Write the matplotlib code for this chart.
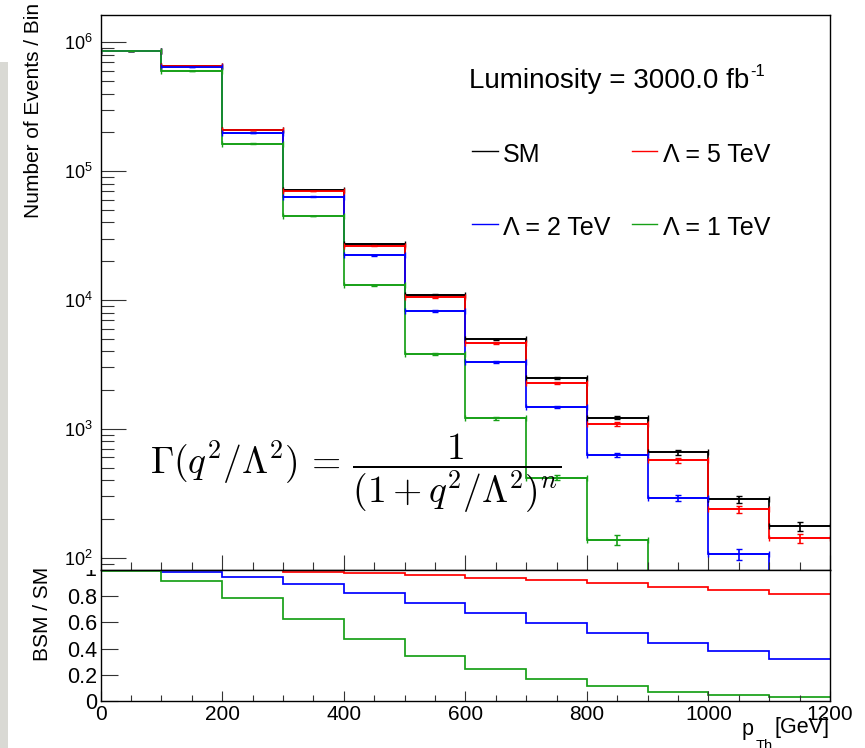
import numpy as np
import matplotlib
matplotlib.use("Agg")
import matplotlib.pyplot as plt
from matplotlib.lines import Line2D
from matplotlib.patches import Rectangle
from matplotlib.transforms import Bbox, TransformedBbox
from matplotlib.ticker import MultipleLocator, LogLocator, NullFormatter

plt.rcParams['font.family'] = ['Liberation Sans', 'DejaVu Sans']

# bin edges in pT [GeV]
edges = [0, 100, 200, 300, 400, 500, 600, 700, 800, 900, 1000, 1100, 1200]
centers = [50, 150, 250, 350, 450, 550, 650, 750, 850, 950, 1050, 1150]

# events / bin
sm = [8.61e5, 6.55e5, 2.09e5, 7.14e4, 2.71e4, 1.10e4, 4950, 2490, 1220, 658, 284, 175]
lam5 = [8.60e5, 6.54e5, 2.08e5, 7.01e4, 2.64e4, 1.05e4, 4640, 2280, 1090, 570, 238, 142]
lam2 = [8.55e5, 6.43e5, 1.99e5, 6.34e4, 2.23e4, 8220, 3300, 1480, 625, 291, 106, 56]
lam1 = [8.52e5, 6.02e5, 1.64e5, 4.49e4, 1.30e4, 3810, 1210, 418, 137, 48, 14, 6]

sm_err = [930, 810, 457, 267, 165, 105, 70, 50, 35, 26, 17, 13]
lam5_err = [928, 809, 456, 265, 162, 102, 68, 48, 33, 24, 15, 12]
lam2_err = [925, 802, 446, 252, 149, 91, 57, 38, 25, 17, 10, 7.5]
lam1_err = [923, 776, 405, 212, 114, 62, 35, 20, 12, 7, 4, 2.4]

# ratio BSM / SM
r5 = [0.998, 0.997, 0.993, 0.983, 0.970, 0.958, 0.938, 0.917, 0.894, 0.871, 0.844, 0.816]
r2 = [0.993, 0.981, 0.943, 0.890, 0.821, 0.748, 0.671, 0.593, 0.517, 0.443, 0.380, 0.319]
r1 = [0.990, 0.915, 0.783, 0.628, 0.476, 0.347, 0.246, 0.170, 0.114, 0.073, 0.050, 0.035]

names = ['SM', 'Λ = 5 TeV', 'Λ = 2 TeV', 'Λ = 1 TeV']
colors = ['black', '#ff0000', '#0000ff', '#17a017']

xticks = [0, 200, 400, 600, 800, 1000, 1200]
xticklabels = ['0', '200', '400', '600', '800', '1000', '1200']
rticks = [0, 0.2, 0.4, 0.6, 0.8]
rticklabels = ['0', '0.2', '0.4', '0.6', '0.8']

W, H = 865, 748
def fx(px):
    return px / W
def fy(py):
    return 1 - py / H

fig = plt.figure(figsize=(W / 100, H / 100), dpi=100)

# thin grey strip at the left edge
fig.patches.append(Rectangle((0, 0), fx(8), fy(62), transform=fig.transFigure,
                             facecolor='#d9d9d4', edgecolor='none', zorder=0))

L, R = 100.7, 830
T, M, B = 14.7, 569.5, 701.3
ax = fig.add_axes([fx(L), fy(M), fx(R) - fx(L), fy(T) - fy(M)])
axr = fig.add_axes([fx(L), fy(B), fx(R) - fx(L), fy(M) - fy(B)])

# --- upper pad
series = [(sm, sm_err), (lam5, lam5_err), (lam2, lam2_err), (lam1, lam1_err)]
for (vals, errs), c in zip(series, colors):
    ax.stairs(vals, edges, baseline=None, color=c, lw=1.25)
    ax.errorbar(centers, vals, yerr=errs, xerr=50, fmt='none', ecolor=c,
                elinewidth=1.2, capsize=2.2, capthick=1.0)

ax.set_yscale('log')
ax.set_xlim(0, 1200)
ax.set_ylim(81, 1.64e6)
ax.yaxis.set_major_locator(LogLocator(base=10, numticks=10))
ax.yaxis.set_minor_locator(LogLocator(base=10, subs=np.arange(2, 10), numticks=20))
ax.yaxis.set_minor_formatter(NullFormatter())
ax.xaxis.set_major_locator(MultipleLocator(200))
ax.xaxis.set_minor_locator(MultipleLocator(50))
ax.tick_params(axis='x', which='both', direction='in', labelbottom=False, width=0.8, color='#333333')
ax.tick_params(axis='x', which='major', length=10.5)
ax.tick_params(axis='x', which='minor', length=5.5)
ax.tick_params(axis='y', which='both', direction='in', width=0.8, color='#333333')
ax.tick_params(axis='y', which='major', length=18, labelsize=13, pad=6)
ax.tick_params(axis='y', which='minor', length=9)
for sp in ax.spines.values():
    sp.set_linewidth(1.0)

# --- lower pad
for vals, c in zip([r5, r2, r1], colors[1:]):
    axr.stairs(vals, edges, baseline=None, color=c, lw=1.25)
axr.set_xlim(0, 1200)
axr.set_ylim(0, 1.0)
axr.set_xticks(xticks, xticklabels)
axr.xaxis.set_minor_locator(MultipleLocator(50))
axr.set_yticks(rticks, rticklabels)
axr.tick_params(axis='x', which='both', direction='in', width=0.8, color='#333333', labelsize=15, pad=3)
axr.tick_params(axis='x', which='major', length=7.5)
axr.tick_params(axis='x', which='minor', length=4)
axr.tick_params(axis='y', which='major', direction='in', length=12, width=0.8, color='#333333',
                labelsize=15.5, pad=2.5)
for sp in axr.spines.values():
    sp.set_linewidth(1.0)

# the "1" of the ratio axis, half hidden under the upper pad
one = fig.text(fx(96), fy(571), '1', fontsize=15.5, ha='right', va='center')
one.set_clip_box(TransformedBbox(Bbox([[0, 0], [1, fy(M)]]), fig.transFigure))
one.set_clip_on(True)

# axis titles
fig.text(fx(34), fy(3), 'Number of Events / Bin', rotation=90, ha='center', va='top', fontsize=15)
fig.text(fx(43), fy(567), 'BSM / SM', rotation=90, ha='center', va='top', fontsize=15)
fig.text(fx(742), fy(735), 'p', ha='left', va='baseline', fontsize=15.5)
fig.text(fx(756), fy(750), 'Th', ha='left', va='baseline', fontsize=10.5)
fig.text(fx(830), fy(733), '[GeV]', ha='right', va='baseline', fontsize=15.5)

# legend block
fig.text(fx(469), fy(87.5), 'Luminosity = 3000.0 fb', ha='left', va='baseline', fontsize=20)
fig.text(fx(750), fy(76), '-1', ha='left', va='baseline', fontsize=12)
entry_x = [(472, 498, 503), (632, 657, 663), (472, 498, 503), (632, 657, 663)]
entry_y = [(151, 162), (151, 162), (223.5, 235), (223.5, 235)]
for name, c, (x0, x1, xt), (yl, yb) in zip(names, colors, entry_x, entry_y):
    fig.add_artist(Line2D([fx(x0), fx(x1)], [fy(yl), fy(yl)], color=c, lw=1.0,
                          transform=fig.transFigure))
    fig.text(fx(xt), fy(yb), name, ha='left', va='baseline', fontsize=18)

# form factor
fig.text(fx(150), fy(473), r'$\Gamma(q^2/\Lambda^2)\,=\,\dfrac{1}{(1+q^2/\Lambda^2)^n}$',
         math_fontfamily='cm', fontsize=27, ha='left', va='center')

fig.savefig('out.png', dpi=100)
